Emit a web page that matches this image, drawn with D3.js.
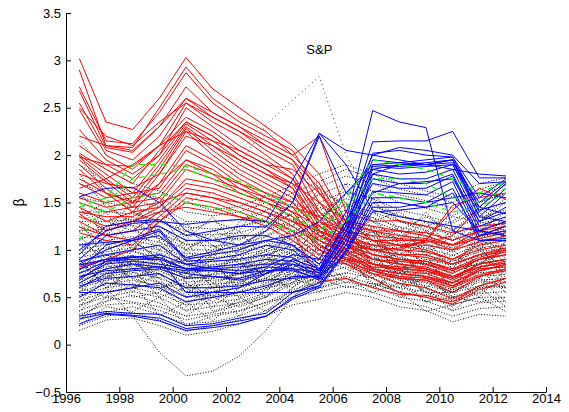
<!DOCTYPE html>
<html>
<head>
<meta charset="utf-8">
<script src="https://cdn.jsdelivr.net/npm/d3@7"></script>
<style>
  html, body { margin: 0; padding: 0; background: #fff; overflow: hidden; }
  svg { display: block; font-family: 'Liberation Sans', Arial, sans-serif; }
</style>
</head>
<body>
<svg id="chart"></svg>
<script>
// sample years (mid-year estimates)
const years = [1996.5, 1997.5, 1998.5, 1999.5, 2000.5, 2001.5, 2002.5, 2003.5, 2004.5,
  2005.5, 2006.5, 2007.5, 2008.5, 2009.5, 2010.5, 2011.5, 2012.5];

const xTicks = [1996, 1998, 2000, 2002, 2004, 2006, 2008, 2010, 2012, 2014];
const yTicks = [-0.5, 0, 0.5, 1, 1.5, 2, 2.5, 3, 3.5];

const spLabel = 'S&P';
const spBeta = [1.2, 1.25, 1.3, 1.4, 1.5, 1.6, 1.9, 2.32, 2.58, 2.83, 2.0, 1.5, 1.35, 1.3, 1.2, 1.25, 1.3];

// black dotted: all other stocks
const blackBetas = [
  [0.15,0.26,0.28,0.2,0.1,0.14,0.22,0.3,0.42,0.48,0.55,0.5,0.4,0.36,0.24,0.32,0.3],
  [0.2,0.3,0.34,0.26,0.14,0.2,0.26,0.36,0.5,0.56,0.62,0.55,0.46,0.4,0.3,0.38,0.4],
  [0.28,0.34,0.4,0.32,0.22,0.24,0.3,0.42,0.56,0.6,0.66,0.62,0.5,0.46,0.36,0.44,0.46],
  [0.32,0.42,0.44,0.36,0.26,0.32,0.36,0.44,0.58,0.66,0.72,0.64,0.56,0.5,0.42,0.5,0.5],
  [0.36,0.46,0.52,0.44,0.3,0.34,0.42,0.5,0.64,0.7,0.76,0.7,0.6,0.56,0.46,0.54,0.56],
  [0.42,0.5,0.56,0.5,0.36,0.4,0.44,0.52,0.66,0.74,0.82,0.74,0.64,0.6,0.5,0.6,0.62],
  [0.46,0.56,0.6,0.54,0.42,0.44,0.48,0.58,0.7,0.78,0.86,0.78,0.68,0.62,0.56,0.66,0.66],
  [0.52,0.6,0.64,0.58,0.46,0.5,0.52,0.6,0.72,0.8,0.9,0.82,0.72,0.66,0.58,0.68,0.7],
  [0.56,0.64,0.68,0.62,0.5,0.52,0.56,0.64,0.76,0.84,0.92,0.86,0.76,0.7,0.62,0.72,0.74],
  [0.6,0.68,0.72,0.66,0.56,0.56,0.6,0.68,0.78,0.86,0.96,0.88,0.78,0.72,0.66,0.76,0.78],
  [0.64,0.72,0.76,0.7,0.6,0.6,0.64,0.7,0.82,0.9,1.0,0.92,0.82,0.76,0.7,0.8,0.82],
  [0.68,0.76,0.8,0.74,0.62,0.64,0.66,0.74,0.84,0.92,1.02,0.96,0.86,0.8,0.72,0.82,0.86],
  [0.72,0.8,0.84,0.78,0.66,0.68,0.7,0.76,0.88,0.96,1.06,1.0,0.88,0.84,0.76,0.86,0.9],
  [0.76,0.82,0.86,0.82,0.7,0.7,0.74,0.8,0.9,1.0,1.1,1.02,0.92,0.86,0.8,0.9,0.94],
  [0.8,0.86,0.9,0.84,0.72,0.74,0.76,0.84,0.94,1.02,1.12,1.06,0.96,0.9,0.84,0.94,0.98],
  [0.84,0.9,0.94,0.88,0.76,0.78,0.8,0.86,0.98,1.06,1.16,1.1,1.0,0.94,0.88,0.98,1.02],
  [0.88,0.94,0.98,0.92,0.8,0.82,0.84,0.9,1.0,1.1,1.2,1.14,1.04,0.98,0.9,1.02,1.06],
  [0.92,0.98,1.02,0.96,0.84,0.84,0.88,0.94,1.04,1.14,1.24,1.18,1.08,1.02,0.94,1.06,1.1],
  [0.96,1.02,1.06,1.0,0.88,0.88,0.9,0.98,1.08,1.18,1.28,1.2,1.12,1.06,0.98,1.1,1.14],
  [1.0,1.06,1.1,1.04,0.92,0.92,0.94,1.0,1.12,1.22,1.32,1.24,1.16,1.1,1.02,1.14,1.18],
  [1.06,1.1,1.14,1.08,0.96,0.96,0.98,1.04,1.16,1.26,1.36,1.3,1.2,1.14,1.06,1.18,1.22],
  [1.12,1.16,1.2,1.12,1.0,1.0,1.02,1.08,1.2,1.3,1.42,1.34,1.24,1.18,1.1,1.22,1.28],
  [1.2,1.22,1.26,1.18,1.06,1.04,1.06,1.14,1.26,1.36,1.48,1.4,1.3,1.24,1.16,1.28,1.34],
  [1.3,1.3,1.32,1.24,1.1,1.1,1.12,1.2,1.32,1.42,1.54,1.46,1.36,1.3,1.22,1.34,1.42],
  [1.4,1.4,1.38,1.3,1.16,1.16,1.18,1.26,1.38,1.5,1.62,1.54,1.42,1.36,1.28,1.42,1.5],
  [1.55,1.5,1.45,1.38,1.24,1.22,1.24,1.34,1.46,1.58,1.7,1.62,1.5,1.44,1.36,1.5,1.6],
  [1.7,1.6,1.52,1.46,1.3,1.3,1.32,1.42,1.54,1.66,1.78,1.7,1.58,1.52,1.44,1.58,1.68],
  [1.9,1.72,1.6,1.55,1.4,1.36,1.4,1.5,1.6,1.72,1.85,1.76,1.64,1.58,1.5,1.64,1.72],
  [2.15,1.85,1.7,1.62,1.5,1.42,1.46,1.56,1.68,1.8,1.9,1.8,1.7,1.62,1.56,1.7,1.76],
  [0.5,0.9,0.7,0.8,0.95,0.6,0.7,0.9,0.8,1.2,0.9,1.0,0.6,0.85,0.5,0.9,0.6],
  [1.0,0.7,0.95,0.6,0.7,0.9,0.55,0.8,1.1,0.9,1.3,0.8,1.0,0.7,0.9,0.7,1.1],
  [0.8,1.1,0.6,1.0,0.5,0.8,0.9,0.6,0.9,1.3,1.0,1.2,0.8,0.9,0.6,1.0,0.8],
  [1.3,0.9,1.1,0.9,1.1,0.7,1.0,1.1,0.8,1.0,1.4,1.1,0.9,1.1,0.8,1.2,0.9],
  [0.35,0.6,0.8,0.5,0.6,0.4,0.6,0.7,0.6,0.9,0.8,0.7,0.9,0.5,0.7,0.5,0.8],
  [1.6,1.3,1.2,1.4,1.0,1.2,1.1,1.3,1.0,1.5,1.2,1.4,1.2,1.0,1.2,1.4,1.1],
  [0.6,0.5,0.9,0.7,0.4,0.65,0.5,0.6,0.75,0.65,1.1,0.7,0.55,0.8,0.45,0.6,0.9],
  [1.2,1.4,1.0,1.2,0.8,1.0,1.2,0.9,1.2,1.1,1.6,1.3,1.1,1.3,1.0,1.3,1.5],
  [0.9,0.6,0.75,1.1,0.65,0.5,0.8,1.0,0.7,1.05,0.85,1.25,0.8,0.6,0.75,1.1,0.7],
  [2.0,1.6,1.4,1.3,1.2,1.3,1.2,1.6,1.3,1.6,1.5,1.3,1.4,1.2,1.3,1.5,1.6],
  [0.45,0.75,0.5,0.55,0.8,0.35,0.45,0.55,0.9,0.7,0.75,0.95,0.7,0.45,0.6,0.8,0.55],
  [1.1,1.25,1.35,1.2,1.0,1.15,0.95,1.2,1.4,1.7,1.2,1.5,1.3,1.2,1.1,1.3,1.2],
  [0.7,0.95,0.85,0.75,0.6,0.75,0.85,0.75,1.0,1.0,1.15,0.9,0.95,0.75,0.8,0.85,1.0],
  [1.5,1.2,1.5,1.1,1.3,0.9,1.3,1.4,1.1,1.3,1.7,1.2,1.1,1.4,1.1,1.2,1.4],
  [0.25,0.5,0.45,0.4,0.3,0.5,0.4,0.5,0.7,0.6,0.7,0.55,0.65,0.45,0.5,0.45,0.5],
  [0.4,0.7,0.9,0.65,0.35,0.55,0.7,0.5,0.8,0.55,1.0,0.6,0.75,0.55,0.4,0.7,0.45],
  [1.15,0.85,1.05,0.8,0.9,0.6,0.8,1.05,0.95,1.25,1.05,0.9,1.15,0.8,0.95,0.8,1.2],
  [0.65,0.8,0.55,0.95,0.7,0.85,0.6,0.95,0.65,0.95,1.25,1.15,0.7,0.95,0.55,1.05,0.65],
  [1.35,1.5,1.25,1.0,1.2,1.05,0.9,1.15,1.3,1.2,1.5,1.0,1.25,0.95,1.15,1.0,1.3],
  [0.3,0.45,0.65,0.3,0.45,0.25,0.5,0.35,0.6,0.8,0.65,0.8,0.5,0.6,0.35,0.6,0.4],
  [1.8,1.45,1.3,1.55,1.1,1.35,1.0,1.25,1.5,1.35,1.6,1.55,1.2,1.35,1.2,1.45,1.25],
  [0.85,0.65,1.0,0.85,0.55,0.7,0.75,0.65,0.85,1.15,0.95,1.05,0.85,0.7,0.65,0.95,0.75],
  [0.55,0.85,0.7,0.6,0.65,0.45,0.65,0.8,0.55,0.75,0.9,0.65,0.6,0.7,0.5,0.55,0.7],
  [1.25,1.05,1.3,1.15,0.75,0.95,1.15,1.0,1.15,1.45,1.35,1.2,1.0,1.2,0.85,1.1,1.0],
  [0.75,1.0,1.1,0.9,0.85,0.65,0.75,0.95,1.05,0.85,1.05,1.35,1.05,0.85,1.0,0.75,1.1],
  [0.2,0.4,0.35,0.5,0.2,0.3,0.35,0.45,0.5,0.7,0.6,0.65,0.55,0.35,0.42,0.5,0.35],
  [1.45,1.15,1.4,1.25,1.05,1.1,1.25,1.3,1.25,1.65,1.45,1.6,1.3,1.25,1.35,1.3,1.55],
  [0.95,1.2,0.8,0.7,1.0,0.8,0.95,0.7,0.95,0.8,1.2,0.85,0.75,1.0,0.7,0.85,1.05],
  [0.4,0.55,0.6,0.75,0.5,0.6,0.3,0.6,0.65,0.85,0.7,0.6,0.8,0.55,0.55,0.7,0.6],
  [1.05,0.95,0.8,0.95,0.75,1.05,0.85,0.85,1.25,1.1,0.95,1.1,0.95,1.05,0.8,1.15,0.85],
  [0.9,0.6,0.3,-0.08,-0.33,-0.28,-0.12,0.15,0.5,0.75,0.9,0.8,0.7,0.65,0.55,0.62,0.6]
];

// red: high beta before the crisis
const redBetas = [
  [3.02,2.35,2.27,2.6,3.03,2.7,2.5,2.3,2.1,1.8,1.3,1.1,1.05,1.0,0.9,1.05,1.1],
  [2.9,2.1,2.08,2.5,2.93,2.6,2.4,2.25,2.0,1.7,1.25,1.2,1.2,1.15,1.05,1.2,1.3],
  [2.72,2.15,2.12,2.45,2.87,2.55,2.35,2.2,2.05,1.6,1.2,1.0,0.95,0.95,0.85,0.95,1.0],
  [2.68,2.08,2.03,2.3,2.72,2.45,2.3,2.1,1.95,1.5,1.15,0.95,0.9,0.85,0.75,0.9,0.95],
  [2.55,2.05,1.95,2.2,2.6,2.4,2.25,2.05,1.9,1.4,1.1,0.9,0.85,0.8,0.7,0.85,0.9],
  [2.48,2.0,1.85,2.1,2.55,2.35,2.2,2.0,1.8,1.35,1.05,0.85,0.8,0.78,0.68,0.82,0.88],
  [2.27,1.95,1.8,2.0,2.5,2.3,2.1,1.95,1.75,1.3,1.2,1.1,1.1,1.1,1.0,1.15,1.25],
  [2.02,1.85,1.7,2.05,2.35,2.2,2.0,1.85,1.7,1.25,1.0,0.8,0.75,0.72,0.62,0.78,0.85],
  [2.0,1.8,1.6,1.95,2.33,2.15,1.95,1.8,1.65,1.2,0.95,0.78,0.7,0.68,0.55,0.72,0.8],
  [1.98,1.75,1.55,1.9,2.3,2.1,1.9,1.75,1.6,1.15,1.05,0.95,0.9,0.88,0.8,0.92,1.0],
  [1.95,1.72,1.5,1.85,2.28,2.05,1.85,1.7,1.55,1.3,1.15,1.05,1.0,0.98,0.9,1.0,1.05],
  [1.9,1.65,1.45,1.8,2.25,2.0,1.8,1.65,1.5,1.2,1.05,0.9,0.85,0.82,0.72,0.85,0.9],
  [1.85,1.6,1.4,1.7,2.1,1.95,1.75,1.6,1.45,1.1,0.98,0.85,0.78,0.75,0.65,0.8,0.82],
  [1.7,1.55,1.6,1.65,2.05,1.9,1.7,1.55,1.4,1.05,0.9,0.75,0.65,0.6,0.48,0.62,0.7],
  [1.6,1.5,1.55,1.6,1.95,1.85,1.65,1.5,1.35,1.0,0.85,0.7,0.55,0.5,0.43,0.58,0.66],
  [1.55,1.45,1.5,1.55,1.9,1.8,1.6,1.5,1.4,1.25,1.1,1.0,0.95,0.92,0.85,0.95,1.02],
  [1.5,1.4,1.45,1.5,1.85,1.75,1.65,1.55,1.45,1.35,1.2,1.15,1.12,1.1,1.05,1.15,1.2],
  [1.45,1.3,1.4,1.45,1.75,1.7,1.6,1.5,1.35,1.15,1.0,0.9,0.88,0.85,0.78,0.9,0.95],
  [1.38,1.2,1.3,1.45,1.7,1.65,1.55,1.45,1.3,1.1,0.95,0.82,0.8,0.78,0.7,0.85,0.9],
  [1.3,1.15,1.2,1.4,1.65,1.6,1.5,1.4,1.25,1.05,0.92,0.8,0.75,0.72,0.65,0.78,0.84],
  [1.24,1.15,1.1,1.35,1.6,1.55,1.45,1.35,1.2,1.0,0.9,0.85,0.82,0.8,0.72,0.82,0.86],
  [1.18,1.1,1.05,1.3,1.55,1.5,1.4,1.3,1.15,0.95,0.88,0.78,0.72,0.7,0.62,0.74,0.8],
  [0.82,0.9,1.0,1.3,1.5,1.45,1.35,1.25,1.1,0.9,0.85,0.75,0.7,0.68,0.6,0.72,0.78],
  [2.2,2.1,2.05,2.3,2.6,2.45,2.3,2.15,2.0,2.2,1.4,1.3,1.31,1.25,1.18,1.25,1.28],
  [1.8,1.7,1.65,1.8,2.2,2.1,1.95,1.8,1.7,1.5,1.3,1.25,1.2,1.18,1.1,1.2,1.25],
  [1.65,1.75,1.9,2.1,2.4,2.25,2.05,1.9,1.75,1.4,1.2,1.1,1.05,1.05,1.0,1.08,1.15],
  [2.1,1.9,1.75,2.0,2.35,2.2,2.0,1.85,1.65,1.3,1.1,1.0,1.0,1.1,1.42,1.65,1.53],
  [1.75,1.6,1.5,1.7,1.95,1.8,1.7,1.6,1.5,1.2,1.05,1.0,1.02,1.1,1.47,1.55,1.6],
  [1.4,1.35,1.35,1.5,1.6,1.55,1.5,1.4,1.3,1.2,1.1,1.05,1.05,1.08,1.15,1.45,1.7],
  [2.5,2.2,2.1,2.35,2.55,2.4,2.25,2.1,1.95,1.65,1.15,0.95,0.9,0.88,0.78,0.9,0.98],
  [1.98,1.9,1.88,2.1,2.25,2.15,2.05,1.9,1.85,1.6,1.3,1.2,1.15,1.12,1.05,1.12,1.18],
  [1.35,1.25,1.3,1.4,1.45,1.4,1.35,1.3,1.2,0.66,0.7,0.6,0.53,0.52,0.45,0.62,0.7]
];

// blue: high beta after the crisis
const blueBetas = [
  [1.56,1.65,1.66,1.5,1.2,1.1,1.05,1.2,1.5,2.23,2.05,2.0,1.95,1.9,1.85,1.8,1.78],
  [1.0,1.2,1.28,1.3,1.27,1.3,1.32,1.3,1.74,2.23,1.9,1.42,1.35,1.3,1.25,1.2,1.15],
  [0.95,1.25,1.3,1.32,1.15,1.2,1.25,1.24,1.5,2.2,1.6,1.9,1.92,1.9,1.95,1.35,1.3],
  [0.9,1.15,1.2,1.25,1.1,1.1,1.15,1.15,1.05,0.8,1.3,2.47,2.35,2.29,1.2,1.1,1.12],
  [0.85,1.0,1.1,1.2,0.88,0.9,0.95,1.05,1.0,0.78,1.25,2.14,2.15,2.15,2.25,1.76,1.76],
  [0.8,0.9,0.92,0.95,0.85,0.88,0.9,0.95,0.92,0.75,1.2,2.02,2.05,2.0,1.98,1.45,1.7],
  [0.75,0.88,0.9,0.9,0.8,0.82,0.85,0.9,0.88,0.72,1.15,1.9,1.88,1.9,1.95,1.4,1.65],
  [0.7,0.85,0.88,0.85,0.8,0.8,0.82,0.85,0.85,0.7,1.1,1.85,1.8,1.82,1.9,1.35,1.6],
  [0.65,0.8,0.85,0.82,0.78,0.78,0.75,0.82,0.8,0.68,1.05,1.8,1.75,1.75,1.85,1.3,1.45],
  [0.6,0.75,0.78,0.8,0.7,0.72,0.7,0.78,0.78,0.7,1.1,1.75,1.7,1.7,1.8,1.25,1.35],
  [0.5,0.65,0.63,0.6,0.45,0.5,0.55,0.62,0.72,0.72,1.2,1.7,1.65,1.65,1.78,1.2,1.3],
  [0.3,0.35,0.33,0.32,0.2,0.22,0.28,0.33,0.55,0.65,1.05,1.62,1.6,1.58,1.72,1.15,1.2],
  [0.27,0.33,0.31,0.28,0.17,0.2,0.25,0.3,0.5,0.62,1.0,1.55,1.55,1.5,1.65,1.1,1.1],
  [0.22,0.32,0.3,0.25,0.15,0.18,0.22,0.3,0.48,0.6,0.98,1.5,1.5,1.45,1.6,1.15,1.25],
  [0.68,0.88,0.92,0.9,0.55,0.55,0.6,0.75,0.9,0.8,1.3,1.8,1.9,1.9,1.92,1.5,1.72],
  [0.78,1.05,1.12,1.22,0.9,0.95,1.0,1.1,1.05,0.85,1.25,1.95,1.92,1.95,1.98,1.55,1.75],
  [0.72,0.78,0.8,0.82,0.75,0.72,0.68,0.75,0.85,0.78,1.15,1.6,1.7,1.72,1.75,1.3,1.4],
  [0.62,0.7,0.72,0.75,0.6,0.6,0.62,0.68,0.7,0.72,0.95,1.45,1.45,1.5,1.55,1.6,1.55],
  [0.88,0.95,1.0,1.05,0.85,0.8,0.78,0.82,0.95,0.9,1.4,2.0,2.08,2.05,2.0,1.7,1.72],
  [1.05,1.08,1.1,1.15,0.92,0.98,1.05,1.1,1.15,1.3,1.6,1.85,1.9,1.92,1.95,1.45,1.38],
  [0.55,0.55,0.6,0.65,0.5,0.55,0.55,0.55,0.55,0.62,1.0,1.4,1.42,1.45,1.5,1.2,1.15],
  [0.84,0.9,0.93,0.92,0.8,0.78,0.75,0.78,0.8,0.76,1.2,1.88,1.86,1.88,1.9,1.42,1.5]
];

// green dashed
const greenBetas = [
  [1.45,1.55,1.9,1.9,1.88,1.8,1.72,1.6,1.45,1.3,1.55,1.95,1.9,1.85,1.75,1.6,1.72],
  [1.1,1.5,1.75,1.8,1.85,1.75,1.6,1.5,1.35,1.2,1.45,1.75,1.75,1.7,1.55,1.5,1.65],
  [1.5,1.4,1.55,1.6,1.5,1.45,1.4,1.3,1.2,1.1,1.3,1.6,1.55,1.5,1.4,1.45,1.6]
];

const width = 569;
const height = 412;
const margin = { top: 13, right: 23, bottom: 20, left: 66 };
const innerWidth = width - margin.left - margin.right;
const innerHeight = height - margin.top - margin.bottom;

const svg = d3.select('#chart')
  .attr('width', width)
  .attr('height', height);

const g = svg.append('g')
  .attr('transform', `translate(${margin.left}, ${margin.top})`);

const xScale = d3.scaleLinear()
  .domain([1996, 2014])
  .range([0, innerWidth]);

const yScale = d3.scaleLinear()
  .domain([-0.5, 3.5])
  .range([innerHeight, 0]);

const lineGen = d3.line()
  .x((d, i) => xScale(years[i]))
  .y(d => yScale(d));

// dotted cloud first
g.selectAll('.black')
  .data(blackBetas)
  .join('path')
  .attr('class', 'black')
  .attr('d', d => lineGen(d))
  .attr('fill', 'none')
  .attr('stroke', '#000')
  .attr('stroke-width', 1)
  .attr('stroke-dasharray', '1,1.7');

g.append('path')
  .attr('d', lineGen(spBeta))
  .attr('fill', 'none')
  .attr('stroke', '#333')
  .attr('stroke-width', 1)
  .attr('stroke-dasharray', '1,3.5');

g.selectAll('.red')
  .data(redBetas)
  .join('path')
  .attr('class', 'red')
  .attr('d', d => lineGen(d))
  .attr('fill', 'none')
  .attr('stroke', '#ff0000')
  .attr('stroke-width', 1);

g.selectAll('.blue')
  .data(blueBetas)
  .join('path')
  .attr('class', 'blue')
  .attr('d', d => lineGen(d))
  .attr('fill', 'none')
  .attr('stroke', '#0000ff')
  .attr('stroke-width', 1);

g.selectAll('.green')
  .data(greenBetas)
  .join('path')
  .attr('class', 'green')
  .attr('d', d => lineGen(d))
  .attr('fill', 'none')
  .attr('stroke', '#00ff00')
  .attr('stroke-width', 1.2)
  .attr('stroke-dasharray', '6,5');

// axes, matlab style ticks pointing in
g.append('g')
  .attr('transform', `translate(0, ${innerHeight})`)
  .call(d3.axisBottom(xScale)
    .tickValues(xTicks)
    .tickFormat(d3.format('d'))
    .tickSizeInner(-5)
    .tickSizeOuter(0)
    .tickPadding(2))
  .attr('font-size', 13)
  .attr('font-family', 'Liberation Sans, Arial, sans-serif');

g.append('g')
  .call(d3.axisLeft(yScale)
    .tickValues(yTicks)
    .tickFormat(d => d < 0 ? '\u22120.5' : String(d))
    .tickSizeInner(-5)
    .tickSizeOuter(0)
    .tickPadding(5))
  .attr('font-size', 13)
  .attr('font-family', 'Liberation Sans, Arial, sans-serif');

g.selectAll('.domain').attr('stroke', '#000');
g.selectAll('.tick line').attr('stroke', '#000');
g.selectAll('.tick text').attr('fill', '#000');

g.append('text')
  .attr('transform', `translate(${-margin.left + 24}, ${yScale(1.5)}) rotate(-90)`)
  .attr('text-anchor', 'middle')
  .style('font-size', '14px')
  .text('\u03b2');

g.append('text')
  .attr('x', xScale(2005.5))
  .attr('y', yScale(3.07))
  .attr('text-anchor', 'middle')
  .style('font-size', '13px')
  .text(spLabel);
</script>
</body>
</html>
